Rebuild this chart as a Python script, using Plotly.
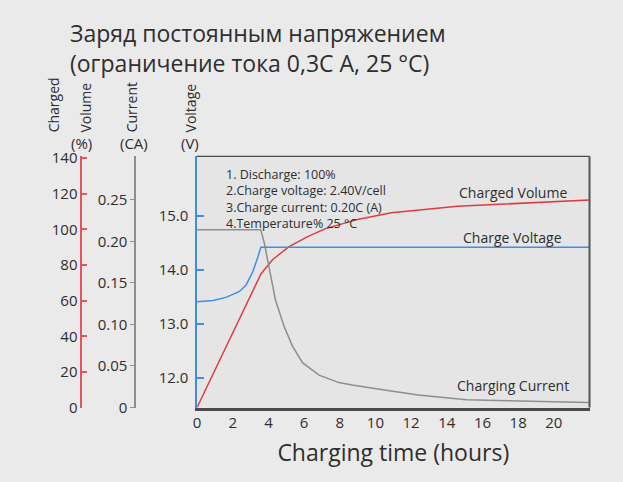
import plotly.graph_objects as go

# values
hours_ticks = [0, 2, 4, 6, 8, 10, 12, 14, 16, 18, 20]

vol_hours = [0, 3.58, 4.23, 4.7, 5.16, 6.2, 7.2, 9.06, 10.9, 14.6, 18.3, 22.0]
vol_pct = [0, 75, 83, 87, 90.4, 96, 100.5, 105.8, 109.4, 113, 115, 116.6]

volt_hours = [0, 0.89, 1.62, 2.0, 2.38, 2.75, 3.12, 3.40, 3.58, 22.0]
volt_v = [13.41, 13.43, 13.49, 13.54, 13.60, 13.72, 13.96, 14.23, 14.42, 14.42]

cur_hours = [0, 3.57, 3.77, 4.05, 4.40, 4.89, 5.35, 5.91, 6.84, 7.95, 8.69, 10.5, 12.4, 15.1, 18.3, 22.0]
cur_ca = [0.214, 0.214, 0.198, 0.167, 0.129, 0.097, 0.074, 0.054, 0.039, 0.030, 0.027, 0.021, 0.015, 0.0095, 0.0075, 0.006]

vol_ticks = [0, 20, 40, 60, 80, 100, 120, 140]
cur_ticks = [0, 0.05, 0.10, 0.15, 0.20, 0.25]
cur_labels = ["0", "0.05", "0.10", "0.15", "0.20", "0.25"]
volt_ticks = [12, 13, 14, 15]

title_lines = ["Заряд постоянным напряжением", "(ограничение тока 0,3С А, 25 °С)"]
notes = ["1. Discharge: 100%", "2.Charge voltage: 2.40V/cell",
         "3.Charge current: 0.20C (A)", "4.Temperature% 25 °C"]

RED = "#e23b3f"
BLUE = "#3f8de6"
GRAY = "#8e8e8e"
TXT = "#2e2e2e"
FONT = "Open Sans"

W, H = 623, 482
def px(x):
    return x / W
def py(y):
    return 1 - y / H

fig = go.Figure()
fig.add_trace(go.Scatter(x=vol_hours, y=vol_pct, mode="lines", yaxis="y",
                         line=dict(color=RED, width=1.5), name="Charged Volume"))
fig.add_trace(go.Scatter(x=cur_hours, y=cur_ca, mode="lines", yaxis="y2",
                         line=dict(color=GRAY, width=1.5), name="Charging Current"))
fig.add_trace(go.Scatter(x=volt_hours, y=volt_v, mode="lines", yaxis="y3",
                         line=dict(color=BLUE, width=1.5), name="Charge Voltage"))

ydom = [py(414), py(153)]
tickfont = dict(size=15, color=TXT)

fig.update_layout(
    width=W, height=H,
    margin=dict(l=0, r=0, t=0, b=0),
    paper_bgcolor="#eaeaea",
    plot_bgcolor="#e5e5e5",
    showlegend=False,
    font=dict(family=FONT, color=TXT),
    xaxis=dict(domain=[px(194.3), px(589.3)], range=[0, 22.0],
               tickvals=hours_ticks, ticks="", showgrid=False, zeroline=False,
               showline=True, linecolor="#4a4a4a", linewidth=2.5,
               tickfont=tickfont,
               title=dict(text="Charging time (hours)", font=dict(size=23, color=TXT),
                          standoff=14)),
    yaxis=dict(domain=ydom, anchor="free", position=px(78), range=[0, 141.1],
               tickvals=vol_ticks, ticks="inside", ticklen=5, tickwidth=2,
               tickcolor="#e4545a", showline=True, linecolor="#e4545a", linewidth=2,
               showgrid=False, zeroline=False, tickfont=tickfont),
    yaxis2=dict(overlaying="y", anchor="free", position=px(132), range=[0, 0.3023],
                tickvals=cur_ticks, ticktext=cur_labels, ticks="outside", ticklen=4,
                tickcolor=GRAY, showline=True, linecolor=GRAY, linewidth=1.5,
                showgrid=False, zeroline=False, tickfont=tickfont),
    yaxis3=dict(overlaying="y", anchor="x", side="left", range=[11.446, 16.107],
                tickvals=volt_ticks, tickformat=".1f", ticks="inside", ticklen=7,
                tickwidth=1.5, tickcolor=BLUE, showline=True, linecolor=BLUE,
                linewidth=1.5, showgrid=False, zeroline=False,
                ticklabelstandoff=4, tickfont=tickfont),
)

# frame top and right
fig.add_shape(type="line", xref="x domain", yref="y domain", x0=0, x1=1, y0=1, y1=1,
              line=dict(color="#222", width=1))
fig.add_shape(type="line", xref="x domain", yref="y domain", x0=1, x1=1, y0=0, y1=1,
              line=dict(color="#555", width=2))

ann = []
ann.append(dict(text="<br>".join(title_lines), x=px(64), y=py(40), xref="paper", yref="paper",
                xanchor="left", yanchor="middle", align="left", showarrow=False,
                font=dict(size=23, color=TXT)))
# notes block as one multi-line text
ann.append(dict(text="<br>".join(notes), x=px(221), y=py(161), xref="paper", yref="paper",
                xanchor="left", yanchor="top", align="left", showarrow=False,
                font=dict(size=12.5, color=TXT)))
for txt, yy in [("Charged Volume", 191), ("Charge Voltage", 237), ("Charging Current", 391)]:
    ann.append(dict(text=txt, x=px(512), y=py(yy), xref="paper", yref="paper",
                    xanchor="center", yanchor="middle", showarrow=False,
                    font=dict(size=14, color=TXT)))
for txt, xx in [("Charged", 50), ("Volume", 82), ("Current", 128), ("Voltage", 188)]:
    ann.append(dict(text=txt, x=px(xx), y=py(130), xref="paper", yref="paper",
                    xanchor="center", yanchor="bottom", textangle=-90, showarrow=False,
                    font=dict(size=14, color=TXT)))
for txt, xx in [("(%)", 78), ("(CA)", 131), ("(V)", 187)]:
    ann.append(dict(text=txt, x=px(xx), y=py(139), xref="paper", yref="paper",
                    xanchor="center", yanchor="middle", showarrow=False,
                    font=dict(size=15, color=TXT)))
fig.update_layout(annotations=ann)

fig.write_html("out.html", config={"displayModeBar": False},
               post_script="document.body.style.margin='0';")
